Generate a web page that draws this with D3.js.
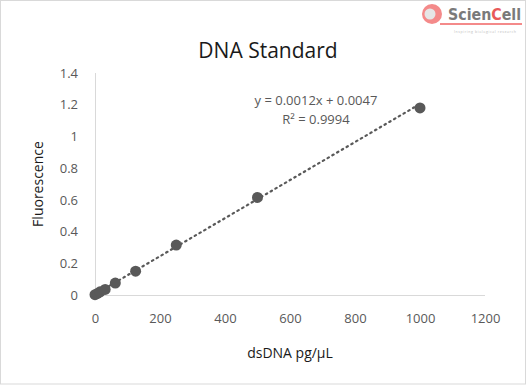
<!DOCTYPE html>
<html>
<head>
<meta charset="utf-8">
<script src="https://cdn.jsdelivr.net/npm/d3@7"></script>
<style>
  body { margin: 0; background: #fff; }
  text { font-family: "Open Sans", "Noto Sans", sans-serif; }
</style>
</head>
<body>
<svg id="chart" width="527" height="385"></svg>
<script>
// standard dilution series
var concentrations = [0, 7.8, 15.6, 31.25, 62.5, 125, 250, 500, 1000];
var fluorescence = [0.002, 0.01, 0.02, 0.035, 0.075, 0.15, 0.315, 0.615, 1.18];
var xTicks = [0, 200, 400, 600, 800, 1000, 1200];
var yTicks = [0, 0.2, 0.4, 0.6, 0.8, 1, 1.2, 1.4];
var slope = 0.0012, intercept = 0.0047;

var svg = d3.select('#chart');
var grey = '#595959';

// chart border
svg.append('rect')
  .attr('x', 0.5).attr('y', 0.5).attr('width', 525).attr('height', 383.5)
  .attr('fill', 'none').attr('stroke', '#d9d9d9');

var x = d3.scaleLinear().domain([0, 1200]).range([95, 485]);
var y = d3.scaleLinear().domain([0, 1.4]).range([295, 73]);

var xAxis = svg.append('g').attr('transform', 'translate(0,295)')
  .call(d3.axisBottom(x).tickValues(xTicks).tickFormat(d3.format('d')).tickSize(0).tickPadding(19));
var yAxis = svg.append('g').attr('transform', 'translate(95,0)')
  .call(d3.axisLeft(y).tickValues(yTicks).tickFormat(d3.format('')).tickSize(0).tickPadding(17));

[xAxis, yAxis].forEach(function(a) {
  a.select('.domain').attr('stroke', '#d9d9d9').attr('stroke-width', 1);
  a.selectAll('text').attr('fill', grey).style('font-size', '13px')
    .style('font-family', '"Open Sans", "Noto Sans", sans-serif');
});
yAxis.select('.domain').remove();
svg.append('line').attr('x1', 95.5).attr('x2', 95.5).attr('y1', 73).attr('y2', 295)
  .attr('stroke', '#d9d9d9');
xAxis.select('.domain').attr('d', 'M95,0.5H485');

// trendline
svg.append('line')
  .attr('x1', x(0)).attr('y1', y(intercept))
  .attr('x2', x(1000)).attr('y2', y(slope * 1000 + intercept))
  .attr('stroke', grey).attr('stroke-width', 2.2)
  .attr('stroke-dasharray', '1.5,4').attr('stroke-linecap', 'round');

svg.selectAll('.pt')
  .data(concentrations)
  .enter().append('circle')
  .attr('class', 'pt')
  .attr('cx', function(d) { return x(d); })
  .attr('cy', function(d, i) { return y(fluorescence[i]); })
  .attr('r', 5.5)
  .attr('fill', grey);

// title + labels
svg.append('text').attr('x', 268).attr('y', 58).attr('text-anchor', 'middle')
  .style('font-size', '21px').attr('fill', '#1a1a1a').text('DNA Standard');
svg.append('text').attr('x', 290).attr('y', 358).attr('text-anchor', 'middle')
  .style('font-size', '14px').attr('fill', '#1a1a1a').text('dsDNA pg/µL');
svg.append('text').attr('transform', 'translate(43,184) rotate(-90)').attr('text-anchor', 'middle')
  .style('font-size', '14px').attr('fill', '#1a1a1a').text('Fluorescence');

svg.append('text').attr('x', 316).attr('y', 105).attr('text-anchor', 'middle')
  .style('font-size', '13px').attr('fill', grey).text('y = 0.0012x + 0.0047');
svg.append('text').attr('x', 316).attr('y', 124).attr('text-anchor', 'middle')
  .style('font-size', '13px').attr('fill', grey).text('R² = 0.9994');

// logo
var logo = svg.append('g');
logo.append('circle').attr('cx', 432).attr('cy', 14).attr('r', 10).attr('fill', '#f48a8a');
logo.append('circle').attr('cx', 430).attr('cy', 14).attr('r', 5.5).attr('fill', '#e6e6e6');
logo.append('rect').attr('x', 440).attr('y', 23).attr('width', 82).attr('height', 2).attr('fill', '#f48a8a');
var lt = logo.append('text').attr('x', 448).attr('y', 20)
  .style('font-family', '"DejaVu Sans Condensed", "DejaVu Sans", sans-serif')
  .style('font-weight', 'bold').style('font-size', '16px').attr('fill', '#7a7a7a')
  .attr('textLength', 73).attr('lengthAdjust', 'spacingAndGlyphs');
lt.append('tspan').text('Scien');
lt.append('tspan').attr('fill', '#e85a5a').text('C');
lt.append('tspan').text('ell');
logo.append('text').attr('x', 454).attr('y', 33).style('font-size', '3.5px').attr('fill', '#bbb')
  .attr('textLength', 62).text('Inspiring biological research');
</script>
</body>
</html>
